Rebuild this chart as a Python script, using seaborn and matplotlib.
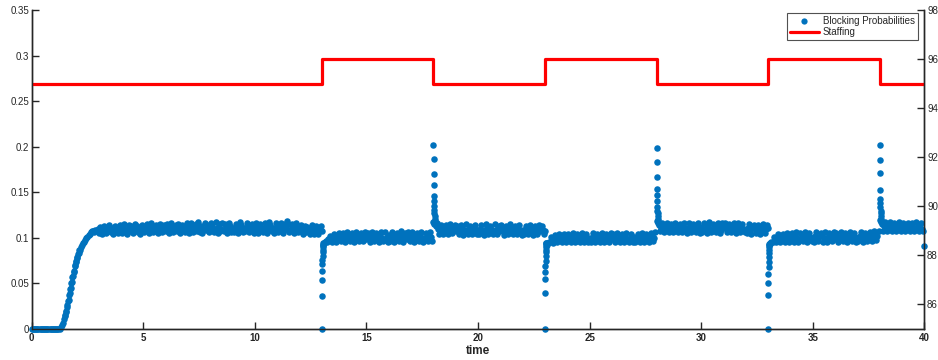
import numpy as np
import pandas as pd
import matplotlib
matplotlib.use("Agg")
import matplotlib.pyplot as plt
import seaborn as sns
from matplotlib.lines import Line2D

# ---------------- data ----------------
grid_step = 0.1
# blocking probability at t = k.0, k.1, ..., k.9 (one row per time unit)
blocking_rows = [
    [0, 0, 0, 0, 0, 0, 0, 0, 0, 0],
    [0, 0, 0, 0.002, 0.007, 0.015, 0.026, 0.039, 0.052, 0.064],
    [0.075, 0.083, 0.090, 0.094, 0.098, 0.101, 0.104, 0.107, 0.106, 0.107],
    [0.105, 0.108, 0.106, 0.110, 0.107, 0.109, 0.111, 0.106, 0.108, 0.110],
    [0.109, 0.112, 0.108, 0.110, 0.107, 0.111, 0.109, 0.113, 0.110, 0.108],
    [0.111, 0.109, 0.112, 0.110, 0.113, 0.108, 0.111, 0.109, 0.112, 0.110],
    [0.108, 0.111, 0.109, 0.113, 0.110, 0.107, 0.111, 0.109, 0.112, 0.110],
    [0.112, 0.109, 0.114, 0.110, 0.108, 0.111, 0.113, 0.110, 0.109, 0.112],
    [0.110, 0.113, 0.109, 0.111, 0.115, 0.110, 0.108, 0.112, 0.110, 0.113],
    [0.111, 0.109, 0.112, 0.110, 0.114, 0.111, 0.109, 0.113, 0.110, 0.112],
    [0.110, 0.113, 0.109, 0.111, 0.108, 0.112, 0.110, 0.114, 0.111, 0.109],
    [0.112, 0.110, 0.113, 0.109, 0.111, 0.115, 0.110, 0.112, 0.109, 0.111],
    [0.108, 0.111, 0.109, 0.106, 0.110, 0.108, 0.111, 0.107, 0.110, 0.109],
    [0.108, 0.094, 0.097, 0.099, 0.098, 0.101, 0.100, 0.102, 0.099, 0.101],
    [0.100, 0.102, 0.099, 0.103, 0.101, 0.098, 0.102, 0.100, 0.104, 0.101],
    [0.099, 0.102, 0.100, 0.103, 0.101, 0.099, 0.102, 0.100, 0.098, 0.101],
    [0.103, 0.100, 0.102, 0.099, 0.101, 0.104, 0.100, 0.102, 0.099, 0.101],
    [0.100, 0.102, 0.098, 0.101, 0.103, 0.100, 0.099, 0.102, 0.100, 0.101],
    [0.117, 0.113, 0.110, 0.108, 0.111, 0.107, 0.110, 0.108, 0.112, 0.109],
    [0.107, 0.110, 0.108, 0.111, 0.109, 0.106, 0.110, 0.108, 0.112, 0.109],
    [0.108, 0.110, 0.107, 0.109, 0.112, 0.108, 0.110, 0.107, 0.109, 0.111],
    [0.108, 0.110, 0.106, 0.109, 0.107, 0.111, 0.109, 0.108, 0.110, 0.107],
    [0.109, 0.107, 0.110, 0.108, 0.111, 0.107, 0.109, 0.110, 0.108, 0.109],
    [0.107, 0.092, 0.096, 0.097, 0.099, 0.098, 0.100, 0.099, 0.101, 0.098],
    [0.100, 0.098, 0.101, 0.099, 0.097, 0.100, 0.102, 0.099, 0.101, 0.098],
    [0.100, 0.099, 0.102, 0.098, 0.100, 0.101, 0.099, 0.097, 0.100, 0.102],
    [0.099, 0.101, 0.098, 0.100, 0.102, 0.099, 0.101, 0.098, 0.100, 0.099],
    [0.101, 0.098, 0.100, 0.102, 0.099, 0.101, 0.098, 0.100, 0.103, 0.100],
    [0.118, 0.114, 0.111, 0.113, 0.110, 0.112, 0.109, 0.111, 0.108, 0.112],
    [0.110, 0.113, 0.109, 0.111, 0.108, 0.112, 0.110, 0.113, 0.109, 0.111],
    [0.112, 0.109, 0.111, 0.114, 0.110, 0.108, 0.112, 0.110, 0.113, 0.109],
    [0.111, 0.113, 0.110, 0.108, 0.112, 0.110, 0.113, 0.109, 0.111, 0.110],
    [0.108, 0.111, 0.109, 0.112, 0.110, 0.107, 0.111, 0.109, 0.112, 0.110],
    [0.111, 0.093, 0.096, 0.098, 0.099, 0.098, 0.100, 0.101, 0.099, 0.100],
    [0.101, 0.099, 0.102, 0.100, 0.098, 0.101, 0.103, 0.100, 0.099, 0.101],
    [0.100, 0.102, 0.099, 0.101, 0.103, 0.100, 0.098, 0.101, 0.100, 0.102],
    [0.099, 0.101, 0.100, 0.103, 0.100, 0.098, 0.101, 0.102, 0.099, 0.101],
    [0.100, 0.102, 0.101, 0.099, 0.102, 0.100, 0.103, 0.101, 0.104, 0.102],
    [0.120, 0.115, 0.113, 0.111, 0.114, 0.112, 0.110, 0.113, 0.111, 0.114],
    [0.112, 0.110, 0.113, 0.111, 0.109, 0.112, 0.110, 0.113, 0.111, 0.110],
]
blocking_end = [0.091]  # value at t = 40

# blocking probability at the in-between samples t = k.05, k.15, ..., k.95
blocking_half_rows = [
    [0, 0, 0, 0, 0, 0, 0, 0, 0, 0],
    [0, 0, 0.0, 0.004, 0.011, 0.020, 0.032, 0.045, 0.058, 0.070],
    [0.079, 0.087, 0.092, 0.096, 0.100, 0.103, 0.106, 0.108, 0.109, 0.110],
    [0.112, 0.104, 0.113, 0.105, 0.114, 0.106, 0.104, 0.113, 0.105, 0.114],
    [0.105, 0.115, 0.104, 0.114, 0.113, 0.105, 0.115, 0.106, 0.104, 0.114],
    [0.106, 0.115, 0.105, 0.116, 0.106, 0.114, 0.105, 0.115, 0.106, 0.114],
    [0.115, 0.105, 0.116, 0.106, 0.114, 0.115, 0.105, 0.114, 0.106, 0.116],
    [0.105, 0.116, 0.106, 0.115, 0.117, 0.106, 0.105, 0.116, 0.114, 0.106],
    [0.116, 0.106, 0.117, 0.105, 0.107, 0.116, 0.115, 0.105, 0.116, 0.106],
    [0.106, 0.115, 0.105, 0.117, 0.106, 0.107, 0.116, 0.106, 0.115, 0.105],
    [0.116, 0.105, 0.115, 0.106, 0.116, 0.105, 0.117, 0.107, 0.105, 0.116],
    [0.106, 0.116, 0.105, 0.115, 0.118, 0.106, 0.115, 0.105, 0.116, 0.106],
    [0.114, 0.104, 0.113, 0.112, 0.104, 0.114, 0.104, 0.113, 0.104, 0.113],
    [0.092, 0.095, 0.096, 0.102, 0.095, 0.104, 0.096, 0.105, 0.097, 0.105],
    [0.096, 0.106, 0.097, 0.105, 0.096, 0.106, 0.097, 0.105, 0.097, 0.106],
    [0.105, 0.096, 0.106, 0.097, 0.105, 0.096, 0.106, 0.097, 0.106, 0.096],
    [0.097, 0.106, 0.096, 0.105, 0.097, 0.107, 0.096, 0.105, 0.106, 0.097],
    [0.106, 0.096, 0.105, 0.097, 0.106, 0.096, 0.105, 0.097, 0.106, 0.097],
    [0.115, 0.116, 0.104, 0.114, 0.104, 0.114, 0.104, 0.115, 0.105, 0.114],
    [0.113, 0.104, 0.114, 0.103, 0.115, 0.104, 0.113, 0.104, 0.114, 0.104],
    [0.104, 0.114, 0.103, 0.115, 0.104, 0.113, 0.104, 0.115, 0.104, 0.113],
    [0.114, 0.103, 0.113, 0.104, 0.115, 0.104, 0.113, 0.104, 0.114, 0.103],
    [0.104, 0.113, 0.104, 0.114, 0.103, 0.113, 0.104, 0.114, 0.113, 0.104],
    [0.094, 0.094, 0.101, 0.094, 0.103, 0.095, 0.104, 0.095, 0.104, 0.096],
    [0.104, 0.095, 0.105, 0.096, 0.104, 0.095, 0.105, 0.095, 0.104, 0.096],
    [0.095, 0.105, 0.096, 0.104, 0.095, 0.105, 0.096, 0.104, 0.095, 0.105],
    [0.104, 0.096, 0.105, 0.095, 0.104, 0.096, 0.105, 0.095, 0.104, 0.096],
    [0.096, 0.104, 0.095, 0.105, 0.096, 0.104, 0.096, 0.105, 0.097, 0.106],
    [0.116, 0.107, 0.116, 0.106, 0.116, 0.106, 0.115, 0.106, 0.116, 0.106],
    [0.115, 0.106, 0.116, 0.105, 0.116, 0.106, 0.115, 0.106, 0.116, 0.105],
    [0.106, 0.116, 0.105, 0.117, 0.106, 0.115, 0.106, 0.116, 0.105, 0.116],
    [0.116, 0.106, 0.115, 0.106, 0.116, 0.105, 0.116, 0.106, 0.115, 0.106],
    [0.105, 0.115, 0.104, 0.114, 0.105, 0.114, 0.104, 0.115, 0.105, 0.114],
    [0.093, 0.095, 0.101, 0.095, 0.104, 0.096, 0.104, 0.096, 0.105, 0.096],
    [0.105, 0.096, 0.106, 0.096, 0.105, 0.097, 0.106, 0.096, 0.105, 0.097],
    [0.096, 0.106, 0.097, 0.105, 0.096, 0.106, 0.096, 0.105, 0.097, 0.106],
    [0.105, 0.096, 0.106, 0.097, 0.105, 0.096, 0.106, 0.097, 0.105, 0.096],
    [0.097, 0.106, 0.096, 0.105, 0.097, 0.106, 0.097, 0.107, 0.098, 0.107],
    [0.117, 0.108, 0.117, 0.107, 0.117, 0.108, 0.116, 0.107, 0.117, 0.107],
    [0.116, 0.107, 0.116, 0.108, 0.116, 0.107, 0.117, 0.107, 0.116, 0.107],
]

# extra samples on the steep part of the initial ramp
ramp_times = [1.475, 1.525, 1.575, 1.625, 1.675, 1.725, 1.775, 1.825,
              1.875, 1.925, 1.975, 2.025, 2.075, 2.125]
ramp_values = [0.014, 0.019, 0.024, 0.031, 0.037, 0.044, 0.050, 0.057,
               0.063, 0.069, 0.074, 0.078, 0.082, 0.087]

# transients right after each staffing change
event_starts = [13.0, 18.0, 23.0, 28.0, 33.0, 38.0]
event_offsets = [0.0, 0.006, 0.012, 0.018, 0.024, 0.030, 0.036, 0.042, 0.048, 0.054, 0.060, 0.066]
event_values = [
    [0.0, 0.036, 0.054, 0.064, 0.071, 0.076, 0.080, 0.084, 0.087, 0.090, 0.092, 0.094],
    [0.202, 0.186, 0.170, 0.158, 0.146, 0.140, 0.135, 0.131, 0.127, 0.124, 0.121, 0.119],
    [0.0, 0.039, 0.055, 0.063, 0.069, 0.075, 0.080, 0.084, 0.087, 0.090, 0.092, 0.094],
    [0.199, 0.183, 0.167, 0.154, 0.147, 0.140, 0.134, 0.130, 0.127, 0.124, 0.121, 0.119],
    [0.0, 0.037, 0.050, 0.060, 0.068, 0.074, 0.079, 0.083, 0.087, 0.090, 0.092, 0.094],
    [0.202, 0.185, 0.171, 0.152, 0.143, 0.138, 0.134, 0.130, 0.127, 0.124, 0.121, 0.119],
]

staff_times = [0, 13, 18, 23, 28, 33, 38, 40]
staff_levels = [95, 96, 95, 96, 95, 96, 95, 95]

x_ticks = [0, 5, 10, 15, 20, 25, 30, 35, 40]
left_ticks = [0, 0.05, 0.1, 0.15, 0.2, 0.25, 0.3, 0.35]
left_labels = ["0", "0.05", "0.1", "0.15", "0.2", "0.25", "0.3", "0.35"]
right_ticks = [86, 88, 90, 92, 94, 96, 98]

# ---------------- assemble ----------------
main_vals = [v for row in blocking_rows for v in row] + blocking_end
main_times = list(np.round(np.arange(len(main_vals)) * grid_step, 3))
half_vals = [v for row in blocking_half_rows for v in row]
half_times = list(np.round(np.arange(len(half_vals)) * grid_step + grid_step / 2, 3))
times = main_times + half_times + ramp_times
vals = main_vals + half_vals + ramp_values
for start, evs in zip(event_starts, event_values):
    for off, v in zip(event_offsets, evs):
        times.append(start + off)
        vals.append(v)
df = pd.DataFrame({"time": times, "p": vals})
staff_df = pd.DataFrame({"time": staff_times, "staff": staff_levels})

# ---------------- style ----------------
sns.set_style("ticks")
plt.rcParams["font.family"] = ["Liberation Sans", "DejaVu Sans"]
dark = "#262626"
blue = "#0072BD"

fig = plt.figure(figsize=(9.38, 3.6), dpi=100)
ax = fig.add_axes([31.7 / 938, 31 / 360, 892.6 / 938, 319 / 360])

sns.scatterplot(data=df, x="time", y="p", ax=ax, color=blue, s=22,
                linewidth=0, clip_on=False, zorder=3, legend=False)
ax.set_xlim(0, 40)
ax.set_ylim(0, 0.35)
ax.set_xticks(x_ticks)
ax.set_xticklabels([str(t) for t in x_ticks], fontweight="bold")
ax.set_yticks(left_ticks)
ax.set_yticklabels(left_labels)
ax.set_xlabel("time", fontsize=8.5, fontweight="bold", color=dark, labelpad=1)
ax.set_ylabel("")
ax.tick_params(axis="both", direction="in", length=5, width=1, colors=dark,
               labelsize=7, pad=2)
ax.tick_params(axis="x", pad=3)

ax2 = ax.twinx()
sns.lineplot(data=staff_df, x="time", y="staff", ax=ax2, color="#FF0000",
             linewidth=2.3, drawstyle="steps-post", estimator=None, legend=False)
ax2.set_ylim(85, 98)
ax2.set_yticks(right_ticks)
ax2.set_ylabel("")
ax2.tick_params(axis="y", direction="in", length=5, width=1, colors=dark,
                labelsize=7, pad=2)

for a in (ax, ax2):
    a.spines["top"].set_visible(False)
    for s in ("left", "right", "bottom"):
        a.spines[s].set_color(dark)
        a.spines[s].set_linewidth(1.0)

handles = [
    Line2D([], [], marker="o", linestyle="none", color=blue, markersize=4.5,
           markeredgewidth=0),
    Line2D([], [], color="#FF0000", linewidth=2.3),
]
leg = ax2.legend(handles, ["Blocking Probabilities", "Staffing"],
                 loc="lower left", bbox_to_anchor=(0.846, 0.905),
                 fontsize=7, frameon=True, fancybox=False, borderpad=0.3,
                 handlelength=3.0, handletextpad=0.4, labelspacing=0.1,
                 borderaxespad=0)
leg.get_frame().set_edgecolor(dark)
leg.get_frame().set_linewidth(0.8)

fig.savefig("out.png", dpi=100)
